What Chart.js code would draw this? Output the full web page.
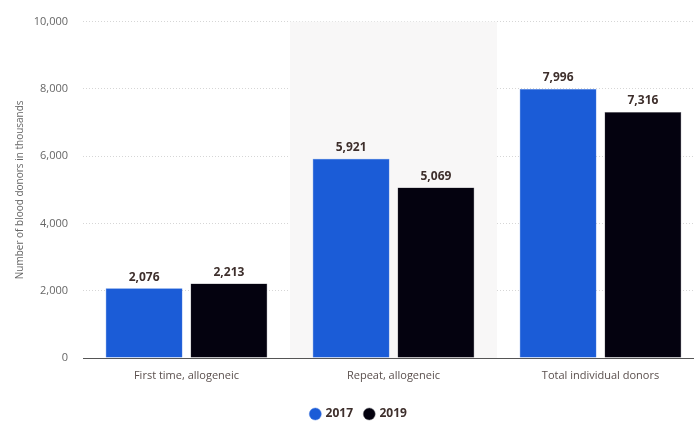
<!DOCTYPE html>
<html>
<head>
<meta charset="utf-8">
<script src="https://cdn.jsdelivr.net/npm/chart.js@4"></script>
<style>
  html, body { margin: 0; padding: 0; background: #fff; overflow: hidden; }
  #wrap { width: 704px; height: 421px; }
</style>
</head>
<body>
<div id="wrap"><canvas id="donorChart" width="704" height="421"></canvas></div>
<script>
// blood donors, thousands
const categories = ['First time, allogeneic', 'Repeat, allogeneic', 'Total individual donors'];
const donors2017 = [2076, 5921, 7996];
const donors2019 = [2213, 5069, 7316];
const yTicks = [0, 2000, 4000, 6000, 8000, 10000];

const fmt = v => v.toLocaleString('en-US');

// light band behind the middle category
const bandPlugin = {
  id: 'band',
  beforeDatasetsDraw(chart) {
    const { ctx, chartArea, scales } = chart;
    const x = scales.x;
    const half = (x.getPixelForValue(1) - x.getPixelForValue(0)) / 2;
    const c = x.getPixelForValue(1);
    ctx.save();
    ctx.fillStyle = '#f8f7f7';
    ctx.fillRect(c - half, chartArea.top, half * 2, chartArea.bottom - chartArea.top);
    ctx.restore();
  }
};

// value labels above each bar
const valueLabels = {
  id: 'valueLabels',
  afterDatasetsDraw(chart) {
    const { ctx } = chart;
    ctx.save();
    ctx.font = 'bold 12px "Open Sans"';
    ctx.fillStyle = '#3e2f2c';
    ctx.textAlign = 'center';
    ctx.textBaseline = 'bottom';
    chart.data.datasets.forEach((ds, i) => {
      chart.getDatasetMeta(i).data.forEach((bar, j) => {
        ctx.fillText(fmt(ds.data[j]), bar.x, bar.y - 5);
      });
    });
    ctx.restore();
  }
};

new Chart(document.getElementById('donorChart'), {
  type: 'bar',
  data: {
    labels: categories,
    datasets: [
      { label: '2017', data: donors2017, backgroundColor: '#1b5cd7', borderColor: '#4a7fe0', borderWidth: 0.5 },
      { label: '2019', data: donors2019, backgroundColor: '#04020f', borderColor: '#6a6a70', borderWidth: 0.5 }
    ]
  },
  options: {
    responsive: false,
    animation: false,
    layout: { padding: { top: 17, left: 14, right: 0, bottom: -9 } },
    datasets: { bar: { barPercentage: 0.905, categoryPercentage: 0.82 } },
    scales: {
      x: {
        grid: { display: false },
        border: { color: '#555', width: 1 },
        ticks: { color: '#5a4f4d', font: { family: 'Open Sans', size: 11 }, padding: 3 },
        afterFit(s) { s.height = 38; }
      },
      y: {
        min: 0, max: 10000,
        afterBuildTicks(s) { s.ticks = yTicks.map(v => ({ value: v })); },
        grid: { color: '#d6d6d6', borderDash: [1, 2], drawTicks: false },
        border: { display: false, dash: [1, 2] },
        ticks: { color: '#666', font: { family: 'Open Sans', size: 11 }, padding: 15, callback: v => fmt(v) },
        title: { display: true, text: 'Number of blood donors in thousands', color: '#666', font: { family: 'Open Sans', size: 10 }, padding: 0 },
        afterFit(s) { s.width = 69; }
      }
    },
    plugins: {
      legend: {
        position: 'bottom',
        labels: {
          usePointStyle: true, pointStyle: 'circle', boxWidth: 8.5, boxHeight: 8.5,
          color: '#3e2f2c', font: { family: 'Open Sans', size: 12, weight: 'bold' }, padding: 12
        }
      },
      tooltip: { enabled: false }
    }
  },
  plugins: [bandPlugin, valueLabels]
});
</script>
</body>
</html>
